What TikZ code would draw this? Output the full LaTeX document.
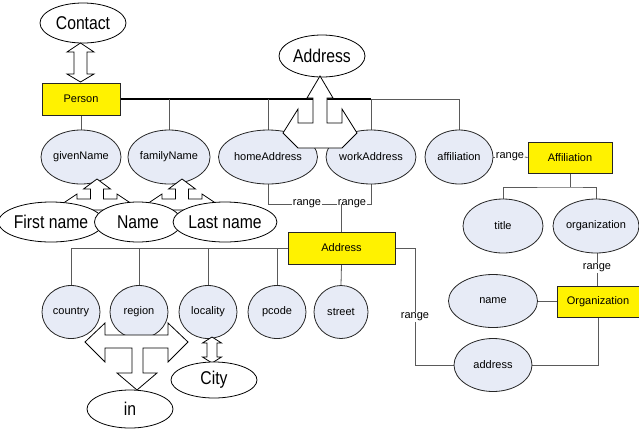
\documentclass[tikz,border=0pt]{standalone}
\usepackage{fontspec}
\setmainfont{Liberation Sans}
\newfontfamily\bigfont[FakeStretch=0.85]{Liberation Sans}
\usetikzlibrary{shapes.geometric}
\definecolor{lav}{RGB}{231,235,246}
\definecolor{lin}{RGB}{90,90,90}
\pgfdeclarelayer{background}
\pgfsetlayers{background,main}
\begin{document}
\begin{tikzpicture}[x=1pt,y=-1pt,
  sz/.style 2 args={minimum width=#1pt, minimum height=#2pt},
  attr/.style={ellipse, draw=black!85, fill=lav, line width=0.8pt, inner sep=0pt, font=\fontsize{11}{13}\selectfont},
  cls/.style={rectangle, draw=black!85, fill=yellow, line width=0.8pt, inner sep=0pt, font=\fontsize{11}{13}\selectfont},
  big/.style={ellipse, draw=black, fill=white, line width=0.8pt, inner sep=0pt, font=\bigfont\fontsize{18.5}{20}\selectfont},
  lbl/.style={inner sep=0.5pt, font=\fontsize{11}{13}\selectfont},
  conn/.style={draw=lin, line width=0.8pt},
  bus/.style={draw=black, line width=1.6pt},
  fat/.style={draw=black, fill=white, line width=0.8pt, line join=miter}]
\path[use as bounding box] (0,0) rectangle (639,429);

% ---------- class boxes ----------
\node[cls, sz={78}{32}] (Person) at (81,99) {Person};
\node[cls, sz={84}{31}] (Affiliation) at (570,157.5) {Affiliation};
\node[cls, sz={107}{32}] (AddrR) at (341.5,248) {Address};
\node[cls, sz={82}{31}] (Organization) at (598,301.5) {Organization};

% ---------- range labels ----------
\node[lbl] (r1) at (307,204) {range};
\node[lbl] (r2) at (352,204) {range};
\node[lbl] (r3) at (510,157) {range};
\node[lbl] (r4) at (597,268) {range};
\node[lbl] (r5) at (415,317) {range};

% ---------- attribute ellipses ----------
\node[attr, sz={80}{54}] (givenName) at (81,157) {givenName};
\node[attr, sz={78}{54}] (familyName) at (169,157) {familyName};
\node[attr, sz={99}{54}] (homeAddress) at (268,157) {homeAddress};
\node[attr, sz={88}{54}] (workAddress) at (371,157) {workAddress};
\node[attr, sz={68}{54}] (affiliation) at (459,157) {affiliation};
\node[attr, sz={80}{54}] (title) at (503,226) {title};
\node[attr, sz={86}{54}] (organization) at (596,226) {organization};
\node[attr, sz={89}{53}] (name) at (493,301) {name};
\node[attr, sz={78}{53}] (address) at (493,365) {address};
\node[attr, sz={58}{53}] (country) at (71,312) {country};
\node[attr, sz={58}{53}] (region) at (139,312) {region};
\node[attr, sz={58}{53}] (locality) at (208,312) {locality};
\node[attr, sz={58}{53}] (pcode) at (277,312) {pcode};
\node[attr, sz={54}{53}] (street) at (341,312) {street};

% ---------- connectors (behind) ----------
\begin{pgfonlayer}{background}
\draw[bus] (Person.east) -- (workAddress.north |- Person.east);
\draw[conn] (Person.south) -- (givenName.north);
\draw[conn] (familyName.north) -- (familyName.north |- Person.east);
\draw[conn] (homeAddress.north) -- (homeAddress.north |- Person.east);
\draw[conn] (workAddress.north) -- (workAddress.north |- Person.east) -- (affiliation.north |- Person.east) -- (affiliation.north);

\draw[conn] (homeAddress.south) |- (r1.west);
\draw[conn] (r1.east) -- (r2.west);
\draw[conn] (r2.east) -| (workAddress.south);
\draw[conn] (AddrR.north) -- (AddrR.north |- r2.west);

\draw[conn] (affiliation.east) -- (r3.west);
\draw[conn] (r3.east) -- (Affiliation.west);
\coordinate (aj) at (570,187);
\draw[conn] (Affiliation.south) -- (aj);
\draw[conn] (title.north) |- (aj) -| (organization.north);
\draw[conn] (r4.north) -- (r4.north |- organization.south);
\draw[conn] (r4.south) -- (r4.south |- Organization.north);
\draw[conn] (name.east) -- (name.east -| Organization.west);
\draw[conn] (address.east) -| (Organization.south);
\draw[conn] (AddrR.east) -| (r5.north);
\draw[conn] (r5.south) |- (address.west);

\draw[conn] (AddrR.west) -- (country.north |- AddrR.west) -- (country.north);
\draw[conn] (region.north) -- (region.north |- AddrR.west);
\draw[conn] (locality.north) -- (locality.north |- AddrR.west);
\draw[conn] (pcode.north) -- (pcode.north |- AddrR.west);
\draw[conn] (AddrR.south) -- (street.north);
\end{pgfonlayer}

% ---------- concept ellipses and block arrows ----------
\node[big, sz={86}{40}] (Contact) at (83,23) {Contact};
\node[big, sz={86}{42}] (AddrTop) at (322,56) {Address};

% Contact <-> Person
\draw[fat] (80.5,43) -- (94,52) -- (87,52) -- (87,74) -- (94,74) -- (80.5,82)
  -- (67,74) -- (74,74) -- (74,52) -- (67,52) -- cycle;

% Address -> homeAddress / workAddress
\draw[fat] (320,76) -- (333,98) -- (327,98) -- (327,123) -- (342,123) -- (342,109)
  -- (357,133) -- (342,148) -- (298,148) -- (283,133) -- (298,109) -- (298,123)
  -- (313,123) -- (313,98) -- (307,98) -- cycle;

% givenName -> First name / Name
\draw[fat] (97,179) -- (110.5,189) -- (103.5,189) -- (103.5,199) -- (117,199) -- (117,194)
  -- (132,204) -- (117,214) -- (117,210) -- (77,210) -- (77,214) -- (62,204) -- (77,194)
  -- (77,199) -- (90.5,199) -- (90.5,189) -- (83.5,189) -- cycle;
% familyName -> Name / Last name
\draw[fat] (182,179) -- (195.5,189) -- (188.5,189) -- (188.5,199) -- (202,199) -- (202,194)
  -- (217,204) -- (202,214) -- (202,210) -- (162,210) -- (162,214) -- (147,204) -- (162,194)
  -- (162,199) -- (175.5,199) -- (175.5,189) -- (168.5,189) -- cycle;

\node[big, sz={86}{40}] (FirstName) at (51,222) {First name};
\node[big, sz={87}{40}] (NameC) at (138,222) {Name};
\node[big, sz={89}{40}] (LastName) at (225,222) {Last name};

% country / region -> in
\draw[fat] (137,390) -- (157,373) -- (143,373) -- (143,348) -- (168,348) -- (168,362)
  -- (188,342) -- (168,323) -- (168,335) -- (105,335) -- (105,323) -- (85,342)
  -- (105,362) -- (105,348) -- (132,348) -- (132,373) -- (117,373) -- cycle;
% locality <-> City
\draw[fat] (212,337) -- (221.5,343) -- (217,343) -- (217,357) -- (221.5,357) -- (212,363)
  -- (202.5,357) -- (207,357) -- (207,343) -- (202.5,343) -- cycle;

\node[big, sz={86}{36}] (City) at (214,380) {City};
\node[big, sz={86}{38}] (In) at (130,409) {in};
\end{tikzpicture}
\end{document}
